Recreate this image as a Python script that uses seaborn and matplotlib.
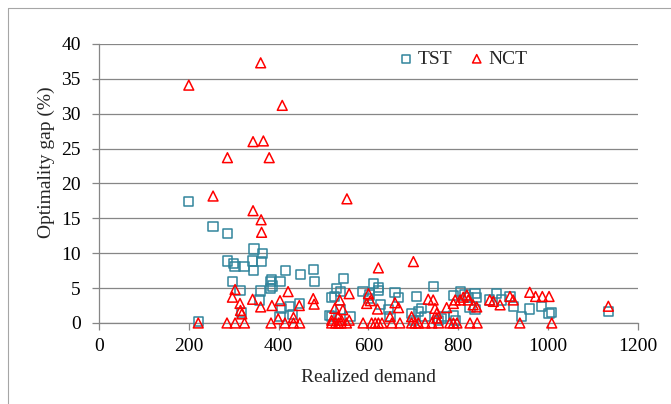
import matplotlib
matplotlib.use("Agg")
import matplotlib.pyplot as plt
from matplotlib.lines import Line2D
import pandas as pd
import seaborn as sns

# TST results: realized demand and optimality gap (%)
tst_demand = [200, 221, 254, 286, 287, 299, 303, 323, 342, 345, 364, 362, 344, 298,
              314, 318, 360, 358, 382, 387, 381, 384, 403, 416, 448, 477, 479, 446,
              425, 407, 403, 431, 514, 518, 525, 529, 537, 545, 537, 518, 559, 588,
              600, 603, 611, 622, 622, 626, 644, 648, 659, 667, 696, 700, 707, 711,
              718, 726, 744, 756, 763, 770, 789, 789, 793, 804, 815, 822, 826, 837,
              837, 841, 870, 885, 896, 915, 922, 941, 959, 985, 1002, 1008, 1134]
tst_gap = [17.4, 0.2, 13.8, 12.8, 8.9, 8.5, 8.1, 8.1, 8.9, 10.6, 10.0, 8.8, 7.5, 5.9,
           4.7, 1.5, 4.6, 3.3, 5.9, 5.3, 5.0, 6.2, 5.9, 7.5, 7.0, 7.7, 6.0, 2.8,
           2.4, 2.1, 0.9, 1.2, 1.1, 3.7, 3.8, 5.0, 4.5, 6.4, 1.9, 0.9, 0.9, 4.5,
           3.5, 4.0, 5.7, 5.1, 4.7, 2.6, 1.9, 0.9, 4.4, 3.6, 1.4, 0.4, 3.8, 1.6,
           2.1, 0.9, 5.2, 0.4, 0.7, 0.9, 3.9, 1.1, 0.4, 4.5, 4.0, 3.7, 2.3, 4.2,
           1.9, 3.7, 3.3, 4.2, 3.3, 3.8, 2.4, 0.9, 2.0, 2.4, 1.4, 1.5, 1.6]

# NCT results: realized demand and optimality gap (%)
nct_demand = [200, 360, 408, 343, 366, 286, 379, 254, 552, 343, 361, 362, 622, 700,
              303, 297, 314, 315, 318, 342, 360, 385, 403, 421, 446, 477, 479, 399,
              433, 536, 557, 525, 543, 532, 540, 557, 518, 600, 604, 596, 620, 659,
              667, 648, 696, 733, 744, 748, 752, 752, 774, 789, 793, 804, 811, 819,
              822, 833, 841, 870, 878, 893, 915, 922, 959, 972, 987, 1002, 1134,
              221, 285, 303, 324, 383, 414, 433, 447, 518, 527, 533, 539, 551, 588,
              607, 615, 622, 630, 652, 670, 696, 704, 711, 726, 741, 756, 781, 789,
              797, 826, 842, 937, 1008]
nct_gap = [34.1, 37.3, 31.2, 26.0, 26.1, 23.7, 23.7, 18.2, 17.8, 16.1, 14.8, 13.0, 7.9, 8.8,
           4.8, 3.7, 2.8, 1.8, 1.3, 3.4, 2.3, 2.5, 3.2, 4.5, 2.5, 3.5, 2.7, 0.6,
           0.8, 3.3, 4.2, 2.1, 1.9, 0.9, 0.4, 0.4, 0.4, 4.2, 3.2, 2.8, 2.0, 2.9,
           2.2, 0.9, 0.9, 3.4, 3.3, 2.1, 1.4, 0.7, 2.2, 2.8, 3.3, 3.3, 3.7, 4.0,
           3.3, 2.6, 2.3, 3.3, 3.1, 2.6, 3.8, 3.3, 4.4, 3.8, 3.8, 3.8, 2.4,
           0, 0, 0, 0, 0, 0, 0, 0, 0, 0, 0, 0, 0, 0,
           0, 0, 0, 0, 0, 0, 0, 0, 0, 0, 0, 0, 0, 0,
           0, 0, 0, 0, 0]

x_ticks = [0, 200, 400, 600, 800, 1000, 1200]
y_ticks = [0, 5, 10, 15, 20, 25, 30, 35, 40]

TEAL = "#31859C"
RED = "#FF0000"
GRID = "#868686"

sns.set_theme(style="white")
plt.rcParams["font.family"] = ["Liberation Serif", "DejaVu Serif"]

df = pd.concat([
    pd.DataFrame({"demand": tst_demand, "gap": tst_gap, "method": "TST"}),
    pd.DataFrame({"demand": nct_demand, "gap": nct_gap, "method": "NCT"}),
])

fig = plt.figure(figsize=(6.71, 4.04), dpi=100)
ax = fig.add_axes([0.1475, 0.2005, 0.8033, 0.6906])

sns.scatterplot(data=df[df.method == "TST"], x="demand", y="gap", marker="s", s=44,
                facecolor="none", edgecolor=TEAL, linewidth=1.1, color=TEAL,
                label="TST", clip_on=False, zorder=3, ax=ax)
sns.scatterplot(data=df[df.method == "NCT"], x="demand", y="gap", marker="^", s=50,
                facecolor="none", edgecolor=RED, linewidth=1.1, color=RED,
                label="NCT", clip_on=False, zorder=4, ax=ax)
for coll in ax.collections:
    coll.set_facecolor("none")

ax.set_xlim(0, 1200)
ax.set_ylim(0, 40)
ax.set_xticks(x_ticks)
ax.set_yticks(y_ticks)
ax.yaxis.grid(True, color=GRID, linewidth=0.9)
ax.xaxis.grid(False)
ax.set_axisbelow(True)

for side in ("top", "right"):
    ax.spines[side].set_visible(False)
for side in ("left", "bottom"):
    ax.spines[side].set_color(GRID)
    ax.spines[side].set_linewidth(0.9)

ax.tick_params(axis="both", which="major", bottom=True, left=True, direction="out",
               length=5, width=0.9, color=GRID, labelsize=14, labelcolor="black")
ax.tick_params(axis="y", pad=8)
ax.tick_params(axis="x", pad=6)

ax.set_xlabel("Realized demand", fontsize=14, labelpad=10)
ax.set_ylabel("Optimality gap (%)", fontsize=14)
ax.yaxis.set_label_coords(-0.082, 0.575)

leg = ax.legend(loc="center", bbox_to_anchor=(0.676, 0.946), ncol=2, frameon=False,
                fontsize=14, handlelength=0.7, handletextpad=0.25, columnspacing=0.9,
                markerscale=0.85, borderaxespad=0)
for h in leg.legend_handles:
    h.set_facecolor("none")

# chart area border along the top and left edges
fig.add_artist(Line2D([8 / 671, 8 / 671], [0, 1 - 8 / 404], transform=fig.transFigure,
                      color="#A6A6A6", linewidth=0.8))
fig.add_artist(Line2D([8 / 671, 1], [1 - 8 / 404, 1 - 8 / 404], transform=fig.transFigure,
                      color="#A6A6A6", linewidth=0.8))

fig.savefig("out.png", dpi=100)
